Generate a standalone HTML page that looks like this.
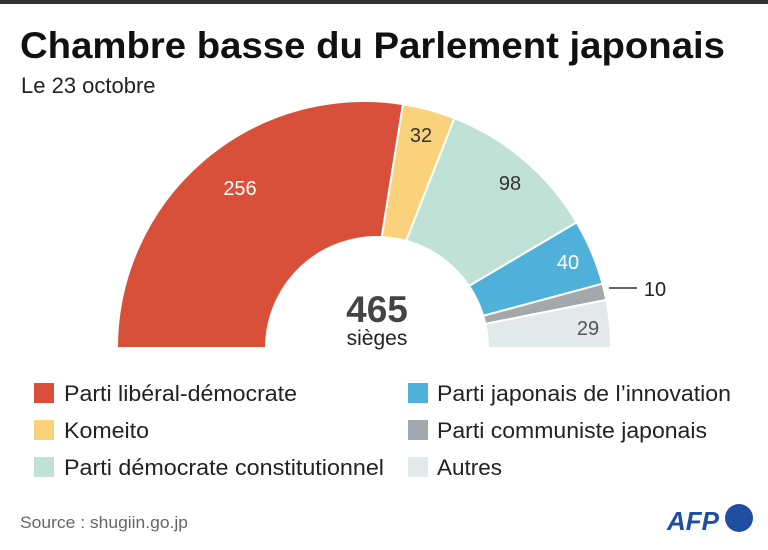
<!DOCTYPE html>
<html><head><meta charset="utf-8"><style>
body{margin:0;width:768px;height:545px;background:#fff;overflow:hidden;font-family:"Liberation Sans","DejaVu Sans",sans-serif;}
</style></head><body>
<svg id="s" width="768" height="545" xmlns="http://www.w3.org/2000/svg" font-family="Liberation Sans, DejaVu Sans, sans-serif">
<rect x="0" y="0" width="768" height="4" fill="#333"/>
<text x="20" y="58" font-size="37" font-weight="bold" fill="#111" textLength="705" lengthAdjust="spacingAndGlyphs">Chambre basse du Parlement japonais</text>
<text x="21" y="93" font-size="22" fill="#222">Le 23 octobre</text>
<g id="arcs"></g>
<g font-size="20" text-anchor="middle">
<text x="240" y="195" fill="#fff">256</text>
<text x="421" y="142" fill="#333">32</text>
<text x="510" y="190" fill="#333">98</text>
<text x="568" y="269" fill="#fff">40</text>
<text x="588" y="335" fill="#555">29</text>
<text x="655" y="296" fill="#222">10</text>
</g>
<line x1="609" y1="288" x2="637" y2="288" stroke="#333" stroke-width="1.5"/>
<text x="377" y="322" font-size="37" font-weight="bold" fill="#444" text-anchor="middle">465</text>
<text x="377" y="345" font-size="21" fill="#222" text-anchor="middle">sièges</text>
<g font-size="22" fill="#222" lengthAdjust="spacingAndGlyphs">
<rect x="34" y="383" width="20" height="20" fill="#d9503a"/><text x="64" y="401" textLength="233" lengthAdjust="spacingAndGlyphs">Parti libéral-démocrate</text>
<rect x="34" y="420" width="20" height="20" fill="#fbd27c"/><text x="64" y="438" textLength="85" lengthAdjust="spacingAndGlyphs">Komeito</text>
<rect x="34" y="457" width="20" height="20" fill="#bfe1d6"/><text x="64" y="475" textLength="320" lengthAdjust="spacingAndGlyphs">Parti démocrate constitutionnel</text>
<rect x="408" y="383" width="20" height="20" fill="#4fb0d9"/><text x="437" y="401" textLength="294" lengthAdjust="spacingAndGlyphs">Parti japonais de l’innovation</text>
<rect x="408" y="420" width="20" height="20" fill="#a3a8ad"/><text x="437" y="438" textLength="270" lengthAdjust="spacingAndGlyphs">Parti communiste japonais</text>
<rect x="408" y="457" width="20" height="20" fill="#e3e8ea"/><text x="437" y="475" textLength="65" lengthAdjust="spacingAndGlyphs">Autres</text>
</g>
<text x="20" y="528" font-size="17" fill="#666" textLength="168" lengthAdjust="spacingAndGlyphs">Source : shugiin.go.jp</text>
<text x="667" y="530" font-size="26" font-weight="bold" font-style="italic" fill="#1f4fa0">AFP</text>
<circle cx="739" cy="518" r="14" fill="#1f4fa0"/>
</svg>
<script>
var vals=[256,32,98,40,10,29],cols=["#d9503a","#fbd27c","#bfe1d6","#4fb0d9","#a3a8ad","#e3e8ea"];
var cx=364,cy=348,R=247,ic=377,ir=111,tot=465,cum=0,g=document.getElementById("arcs"),out="";
function op(a){return [cx+R*Math.cos(a),cy-R*Math.sin(a)];}
function ip(a){var c=Math.cos(a),t=(cx-ic)*-c+Math.sqrt(Math.pow((cx-ic)*c,2)-((cx-ic)*(cx-ic)-ir*ir));return [cx+t*c,cy-t*Math.sin(a)];}
for(var i=0;i<vals.length;i++){
 var a0=Math.PI*(1-cum/tot);cum+=vals[i];var a1=Math.PI*(1-cum/tot);
 var o0=op(a0),o1=op(a1),i0=ip(a0),i1=ip(a1);
 out+='<path d="M'+i0+' L'+o0+' A'+R+' '+R+' 0 0 1 '+o1+' L'+i1+' A'+ir+' '+ir+' 0 0 0 '+i0+' Z" fill="'+cols[i]+'" stroke="#fff" stroke-width="2"/>';
}
g.innerHTML=out;
</script>
</body></html>
